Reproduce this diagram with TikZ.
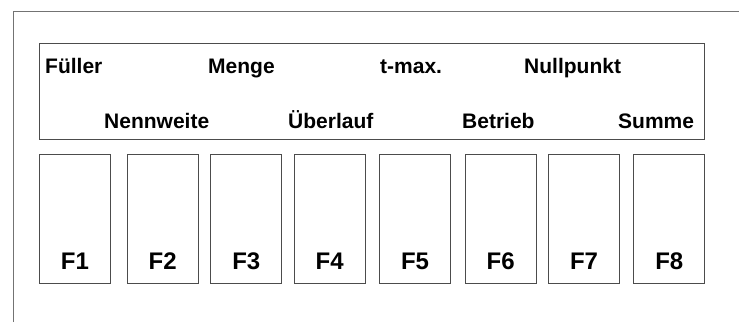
\documentclass[tikz,border=0pt]{standalone}
\usepackage{fontspec}
\setmainfont{Liberation Sans}
\begin{document}
\begin{tikzpicture}[x=1bp,y=-1bp,
  frameline/.style={draw=black!55, line width=1bp},
  panel/.style={draw=black!70, line width=1bp},
  fkey/.style={draw=black!70, line width=1bp, minimum width=71bp, minimum height=129bp,
    inner sep=0pt, anchor=north west},
  softlabel/.style={font=\bfseries\fontsize{21bp}{25bp}\selectfont, inner sep=0pt, anchor=base west},
  keylabel/.style={font=\bfseries\fontsize{24bp}{28bp}\selectfont, inner sep=0pt, anchor=base}]
\useasboundingbox (0,0) rectangle (739,322);
% housing edge
\draw[frameline] (13,322) -- (13,11) -- (739,11);
% display panel
\node[panel, minimum width=665bp, minimum height=96bp, inner sep=0pt, anchor=north west] (disp) at (39,43) {};
% soft-key captions, upper row
\node[softlabel] (l1) at (45,73) {Füller};
\node[softlabel] (l3) at (208,73) {Menge};
\node[softlabel] (l5) at (380,73) {t-max.};
\node[softlabel] (l7) at (524,73) {Nullpunkt};
% soft-key captions, lower row
\node[softlabel] (l2) at (104,128.5) {Nennweite};
\node[softlabel] (l4) at (288,128.5) {Überlauf};
\node[softlabel] (l6) at (462,128.5) {Betrieb};
\node[softlabel] (l8) at (618,128.5) {Summe};
% function keys
\foreach \i/\x in {1/39, 2/126.7, 3/210.3, 4/293.7, 5/379, 6/464.7, 7/548, 8/633.3} {
  \node[fkey] (f\i) at (\x,154) {};
  \node[keylabel] (t\i) at ([yshift=15bp]f\i.south) {F\i};
}
\end{tikzpicture}
\end{document}
